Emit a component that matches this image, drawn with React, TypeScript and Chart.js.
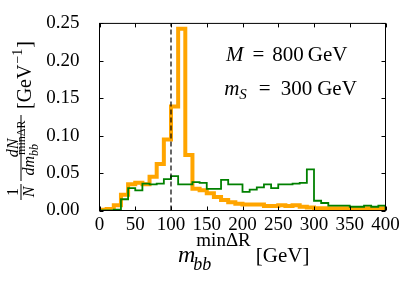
import React, { useEffect, useRef } from "react";
import { Chart, registerables } from "chart.js";

Chart.register(...registerables);

// ---------- data ----------
const binEdges = [
  0, 10, 20, 30, 40, 50, 60, 70, 80, 90, 100, 110, 120, 130, 140, 150, 160, 170, 180, 190, 200,
  210, 220, 230, 240, 250, 260, 270, 280, 290, 300, 310, 320, 330, 340, 350, 360, 370, 380, 390, 400,
];
const orangeValues = [
  0.001, 0.002, 0.007, 0.021, 0.035, 0.037, 0.035, 0.045, 0.062, 0.095,
  0.139, 0.243, 0.074, 0.029, 0.027, 0.023, 0.018, 0.014, 0.011, 0.009,
  0.008, 0.008, 0.008, 0.006, 0.006, 0.007, 0.006, 0.007, 0.005, 0.004,
  0.003, 0.003, 0.003, 0.003, 0.003, 0.003, 0.003, 0.003, 0.003, 0.003,
];
const greenValues = [
  0.0, 0.0, 0.001, 0.015, 0.030, 0.027, 0.036, 0.035, 0.036, 0.042,
  0.046, 0.035, 0.035, 0.038, 0.037, 0.029, 0.029, 0.041, 0.035, 0.035,
  0.025, 0.028, 0.031, 0.035, 0.030, 0.035, 0.035, 0.036, 0.037, 0.055,
  0.013, 0.010, 0.0065, 0.0065, 0.0065, 0.005, 0.005, 0.0065, 0.005, 0.0065,
];
const xTickValues = [0, 50, 100, 150, 200, 250, 300, 350, 400];
const yTickValues = [0, 0.05, 0.1, 0.15, 0.2, 0.25];
const referenceMass = 100;
const benchmarkM = 800;
const benchmarkMS = 300;

// ---------- helpers ----------
const SERIF = '"Liberation Serif", "DejaVu Serif", serif';
const fnt = (size: number, italic = false) => `${italic ? "italic " : ""}${size}px ${SERIF}`;

function stepData(values: number[]) {
  const pts: { x: number; y: number }[] = [{ x: binEdges[0], y: 0 }];
  values.forEach((v, i) => pts.push({ x: binEdges[i], y: v }));
  pts.push({ x: binEdges[values.length], y: values[values.length - 1] });
  pts.push({ x: binEdges[values.length], y: 0 });
  return pts;
}

function run(ctx: CanvasRenderingContext2D, text: string, x: number, y: number, size: number, italic = false) {
  ctx.font = fnt(size, italic);
  ctx.fillText(text, x, y);
  return x + ctx.measureText(text).width;
}
function width(ctx: CanvasRenderingContext2D, text: string, size: number, italic = false) {
  ctx.font = fnt(size, italic);
  return ctx.measureText(text).width;
}

const decorPlugin = {
  id: "decor",
  afterDatasetsDraw(chart: any) {
    const ctx: CanvasRenderingContext2D = chart.ctx;
    const { left, right, top, bottom } = chart.chartArea;
    const xs = chart.scales.x;
    const ys = chart.scales.y;
    ctx.save();
    ctx.strokeStyle = "#000";
    ctx.fillStyle = "#000";
    ctx.lineWidth = 1;
    // spines
    ctx.strokeRect(left, top, right - left, bottom - top);
    // inward ticks on all four sides
    const tl = 4;
    ctx.beginPath();
    xTickValues.forEach((v) => {
      const px = Math.round(xs.getPixelForValue(v)) + 0.5;
      ctx.moveTo(px, bottom);
      ctx.lineTo(px, bottom - tl);
      ctx.moveTo(px, top);
      ctx.lineTo(px, top + tl);
    });
    yTickValues.forEach((v) => {
      const py = Math.round(ys.getPixelForValue(v)) + 0.5;
      ctx.moveTo(left, py);
      ctx.lineTo(left + tl, py);
      ctx.moveTo(right, py);
      ctx.lineTo(right - tl, py);
    });
    ctx.stroke();

    ctx.textBaseline = "alphabetic";
    ctx.textAlign = "left";
    // annotation
    const w = right - left;
    const h = bottom - top;
    const fs = 21;
    let ax = left + 0.442 * w;
    let ay = bottom - 0.8 * h;
    ax = run(ctx, "M", ax, ay, fs, true);
    ax = run(ctx, "=", ax + 9, ay, fs);
    ax = run(ctx, String(benchmarkM), ax + 8, ay, fs);
    run(ctx, "GeV", ax + 4, ay, fs);

    ax = left + 0.436 * w;
    ay = bottom - 0.617 * h;
    ax = run(ctx, "m", ax, ay, fs, true);
    ax = run(ctx, "S", ax, ay + 4, 15, true);
    ax = run(ctx, "=", ax + 12, ay, fs);
    ax = run(ctx, String(benchmarkMS), ax + 10, ay, fs);
    run(ctx, "GeV", ax + 5, ay, fs);

    // x title
    let tx = 178;
    const ty = 262;
    const xm = run(ctx, "m", tx, ty, 24, true);
    const e1 = run(ctx, "bb", xm - 2, ty + 8, 18, true);
    const e2 = run(ctx, "minΔR", xm + 1, ty - 16, 19);
    tx = Math.max(e1, e2) + 5;
    run(ctx, "[GeV]", tx, ty, 21);

    // y title (rotated)
    ctx.save();
    ctx.translate(31, 200);
    ctx.rotate(-Math.PI / 2);
    const barV = -10;
    // fraction 1/N
    let u = 0;
    const f1w = 16;
    ctx.fillRect(u, barV - 0.5, f1w, 1);
    let ww = width(ctx, "1", 16);
    run(ctx, "1", u + (f1w - ww) / 2, barV - 3, 16);
    ww = width(ctx, "N", 16, true);
    run(ctx, "N", u + (f1w - ww) / 2, 2.5, 16, true);
    // fraction dN/dm
    u = 19;
    const f2w = 66;
    ctx.fillRect(u, barV - 0.5, f2w, 1);
    ww = width(ctx, "dN", 16, true);
    run(ctx, "dN", u + (f2w - ww) / 2, barV - 3, 16, true);
    const dmw = width(ctx, "dm", 16, true);
    const supw = width(ctx, "minΔR", 12);
    const dstart = u + (f2w - (dmw + supw + 1)) / 2;
    const dmEnd = run(ctx, "dm", dstart, 2.5, 16, true);
    run(ctx, "bb", dmEnd, 6.5, 12, true);
    run(ctx, "minΔR", dmEnd + 1, -6, 12);
    // units
    u = 91;
    u = run(ctx, "[GeV", u, 0, 20);
    u = run(ctx, "−1", u + 1, -9, 14);
    run(ctx, "]", u + 1, 0, 20);
    ctx.restore();

    ctx.restore();
  },
};

export default function App() {
  const canvasRef = useRef<HTMLCanvasElement | null>(null);

  useEffect(() => {
    if (!canvasRef.current) return;
    const chart = new Chart(canvasRef.current, {
      type: "line",
      data: {
        datasets: [
          {
            label: "ref",
            data: [
              { x: referenceMass, y: 0 },
              { x: referenceMass, y: 0.25 },
            ],
            borderColor: "#000",
            borderWidth: 1.2,
            borderDash: [5, 3],
            pointRadius: 0,
            order: 0,
            clip: 0,
          },
          {
            label: "green",
            data: stepData(greenValues),
            stepped: "before",
            borderColor: "#008000",
            borderWidth: 1.8,
            borderJoinStyle: "miter",
            pointRadius: 0,
            order: 1,
            clip: 0,
          },
          {
            label: "orange",
            data: stepData(orangeValues),
            stepped: "before",
            borderColor: "#FFA500",
            borderWidth: 4,
            borderJoinStyle: "miter",
            pointRadius: 0,
            order: 2,
            clip: 0,
          },
        ],
      } as any,
      options: {
        animation: false,
        responsive: false,
        events: [],
        layout: { padding: { left: 0, right: 21.5, top: 15.5, bottom: 0 } },
        plugins: { legend: { display: false }, tooltip: { enabled: false } },
        scales: {
          x: {
            type: "linear",
            min: 0,
            max: 400,
            grid: { display: false },
            border: { display: false },
            ticks: {
              stepSize: 50,
              autoSkip: false,
              maxRotation: 0,
              padding: -5,
              color: "#000",
              font: { family: SERIF, size: 19 },
            },
            afterFit: (s: any) => {
              s.height = 75.5;
            },
          },
          y: {
            type: "linear",
            min: 0,
            max: 0.25,
            grid: { display: false },
            border: { display: false },
            ticks: {
              stepSize: 0.05,
              padding: 12,
              color: "#000",
              font: { family: SERIF, size: 19 },
              callback: (v: any) => Number(v).toFixed(2),
            },
            afterFit: (s: any) => {
              s.width = 99.5;
            },
          },
        },
      } as any,
      plugins: [decorPlugin],
    });
    return () => chart.destroy();
  }, []);

  return (
    <div style={{ position: "fixed", left: 0, top: 0, width: 407, height: 286, background: "#fff" }}>
      <canvas ref={canvasRef} width={407} height={286} />
    </div>
  );
}
